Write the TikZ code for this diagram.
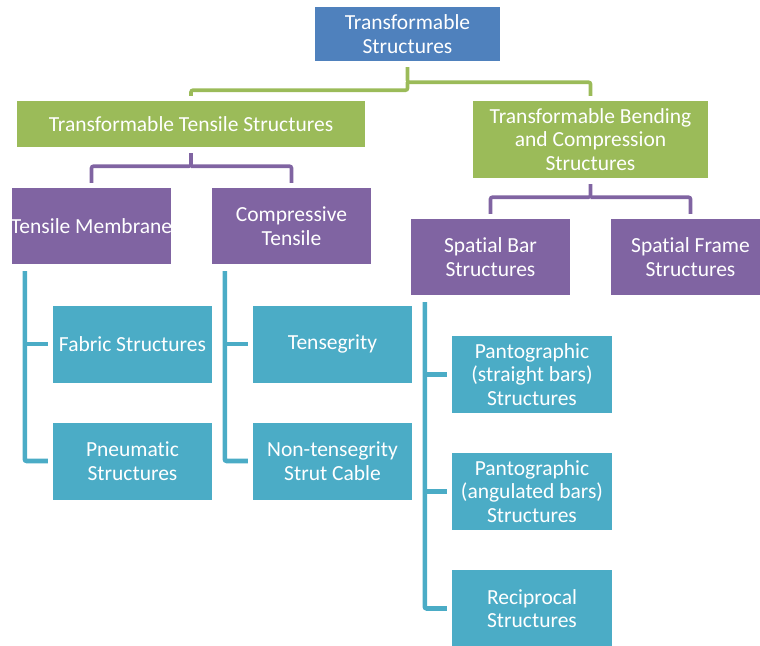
\documentclass[tikz,border=0pt]{standalone}
\usepackage{fontspec}
\setmainfont[Ligatures=NoCommon]{Carlito}
\usepackage{tikz}
\usetikzlibrary{positioning}

\definecolor{rootblue}{HTML}{4F81BD}
\definecolor{lvlgreen}{HTML}{9BBB59}
\definecolor{lvlpurple}{HTML}{8064A2}
\definecolor{lvlteal}{HTML}{4BACC6}

\begin{document}
\begin{tikzpicture}[x=1pt,y=-1pt,
      box/.style={minimum width=159pt,minimum height=76pt,inner sep=2pt,
        text=white,align=center,font=\fontsize{21.5}{23.5}\selectfont},
      gline/.style={draw=lvlgreen,line width=3.6pt,rounded corners=2pt},
      pline/.style={draw=lvlpurple,line width=3.6pt,rounded corners=2pt},
      tline/.style={draw=lvlteal,line width=4.6pt,rounded corners=2pt},
    ]
    \useasboundingbox (0,0) rectangle (760,645);
    \begin{scope}
    \clip (0,0) rectangle (760,645);
    % top levels
    \node[box,fill=rootblue,minimum width=185pt,minimum height=54pt] (root) at (407.5,34) {Transformable\\Structures};
    \node[box,fill=lvlgreen,minimum width=348pt,minimum height=46pt] (tts) at (191,124) {Transformable Tensile Structures};
    \node[box,fill=lvlgreen,minimum width=235pt,minimum height=77pt] (tbcs) at (590.5,139.5) {Transformable Bending\\and Compression\\Structures};
    % purple level
    \node[box,fill=lvlpurple] (tm) at (91.5,226) {\makebox[0pt][c]{Tensile Membrane}};
    \node[box,fill=lvlpurple] (ct) at (291.5,226) {Compressive\\Tensile};
    \node[box,fill=lvlpurple] (sb) at (490.5,257) {Spatial Bar\\Structures};
    \node[box,fill=lvlpurple] (sf) at (690.5,257) {Spatial Frame\\Structures};
    % teal level
    \node[box,fill=lvlteal,minimum height=77pt] (fab) at (132.5,344) {Fabric Structures};
    \node[box,fill=lvlteal,minimum height=77pt] (pn) at (132.5,461) {Pneumatic\\Structures};
    \node[box,fill=lvlteal,minimum height=77pt] (ten) at (332.5,344) {Tensegrity};
    \node[box,fill=lvlteal,minimum height=77pt] (nt) at (332.5,461) {Non-tensegrity\\Strut Cable};
    \node[box,fill=lvlteal,minimum width=160pt,minimum height=77pt] (p1) at (532,374.5) {Pantographic\\(straight bars)\\Structures};
    \node[box,fill=lvlteal,minimum width=160pt,minimum height=77pt] (p2) at (532,491.5) {Pantographic\\(angulated bars)\\Structures};
    \node[box,fill=lvlteal,minimum width=160pt,minimum height=77pt] (rec) at (532,608.5) {Reciprocal\\Structures};

    % connectors
    \draw[gline] ([yshift=-6pt]root.south) -- ++(0,15) coordinate (rj) -| ([yshift=5pt]tbcs.north);
    \draw[gline] (rj) -- ++(0,8) -| ([yshift=5pt]tts.north);
    \draw[pline] ([yshift=-6pt]tts.south) -- ++(0,13) coordinate (tj) -| ([yshift=5pt]tm.north);
    \draw[pline] (tj) -| ([yshift=5pt]ct.north);
    \draw[pline] ([yshift=-6pt]tbcs.south) -- ++(0,13) coordinate (bj) -| ([yshift=5pt]sb.north);
    \draw[pline] (bj) -| ([yshift=5pt]sf.north);
    \draw[tline] ([xshift=13pt,yshift=-7pt]tm.south west) |- ([xshift=-5pt]pn.west);
    \draw[tline] ([xshift=-28pt]fab.west) -- ([xshift=-5pt]fab.west);
    \draw[tline] ([xshift=13pt,yshift=-7pt]ct.south west) |- ([xshift=-5pt]nt.west);
    \draw[tline] ([xshift=-28pt]ten.west) -- ([xshift=-5pt]ten.west);
    \draw[tline] ([xshift=14pt,yshift=-7pt]sb.south west) |- ([xshift=-5pt]rec.west);
    \draw[tline] ([xshift=-27pt]p1.west) -- ([xshift=-5pt]p1.west);
    \draw[tline] ([xshift=-27pt]p2.west) -- ([xshift=-5pt]p2.west);
    \end{scope}
\end{tikzpicture}
\end{document}
